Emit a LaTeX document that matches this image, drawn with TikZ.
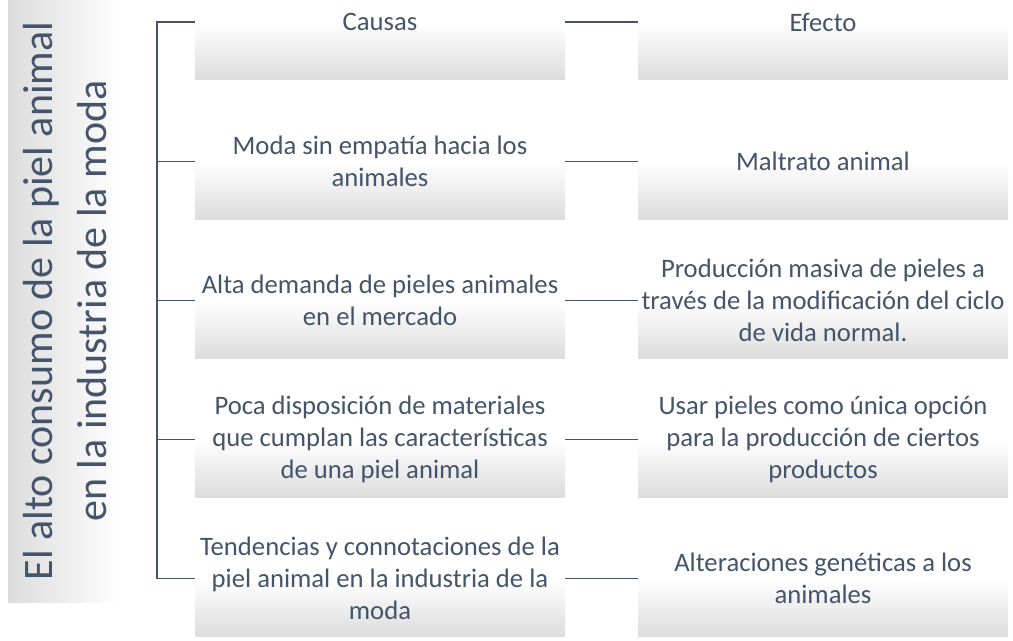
\documentclass[tikz,border=0pt]{standalone}
\usepackage{fontspec}
\setmainfont{Carlito}
\usepackage{xcolor}
\usetikzlibrary{positioning}
\definecolor{slate}{HTML}{44546A}
\definecolor{boxgray}{HTML}{DCDCDC}
\tikzset{
  cellbox/.style={draw=none,top color=white,bottom color=boxgray,middle color=white,
    minimum width=277.5pt,minimum height=87pt,inner sep=0pt,align=center,text=slate,
    font=\fontsize{20}{24}\selectfont},
  rootbox/.style={rotate=90,draw=none,left color=boxgray,right color=white,
    minimum width=451.5pt,minimum height=85.5pt,align=center,text=slate,
    font=\fontsize{31.5}{40}\selectfont},
  link/.style={draw=slate,line width=0.9pt}
}

\begin{document}
\begin{tikzpicture}[x=0.75pt,y=-0.75pt,node distance=104.4pt and 332.25pt,on grid]
  \useasboundingbox (0,0) rectangle (1013,641);
  \node[rootbox] (title) at (65,301) {El alto consumo de la piel animal\\en la industria de la moda};
  \coordinate (fork) at (157,301);
  % causas
  \node[cellbox] (ca_1) at (380,22) {Causas};
  \node[cellbox] (ca_2) [below=of ca_1] {Moda sin empatía hacia los\\animales};
  \node[cellbox] (ca_3) [below=of ca_2] {Alta demanda de pieles animales\\en el mercado};
  \node[cellbox] (ca_4) [below=of ca_3] {Poca disposición de materiales\\que cumplan las características\\de una piel animal};
  \node[cellbox] (ca_5) [below=of ca_4] {Tendencias y connotaciones de la\\piel animal en la industria de la\\moda};
  % efectos
  \node[cellbox] (ef_1) [right=of ca_1] {Efecto};
  \node[cellbox] (ef_2) [right=of ca_2] {Maltrato animal};
  \node[cellbox] (ef_3) [right=of ca_3] {Producción masiva de pieles a\\través de la modificación del ciclo\\de vida normal.};
  \node[cellbox] (ef_4) [right=of ca_4] {Usar pieles como única opción\\para la producción de ciertos\\productos};
  \node[cellbox] (ef_5) [right=of ca_5] {Alteraciones genéticas a los\\animales};
  \draw[link,line width=0.6pt,double,double distance=1pt] (title) -- (fork);
  \draw[link] (fork) |- (ca_1) (fork) |- (ca_2) (fork) |- (ca_3)
              (fork) |- (ca_4) (fork) |- (ca_5);
  \path[link] (ca_1) edge (ef_1)
              (ca_2) edge (ef_2)
              (ca_3) edge (ef_3)
              (ca_4) edge (ef_4)
              (ca_5) edge (ef_5);
\end{tikzpicture}
\end{document}
